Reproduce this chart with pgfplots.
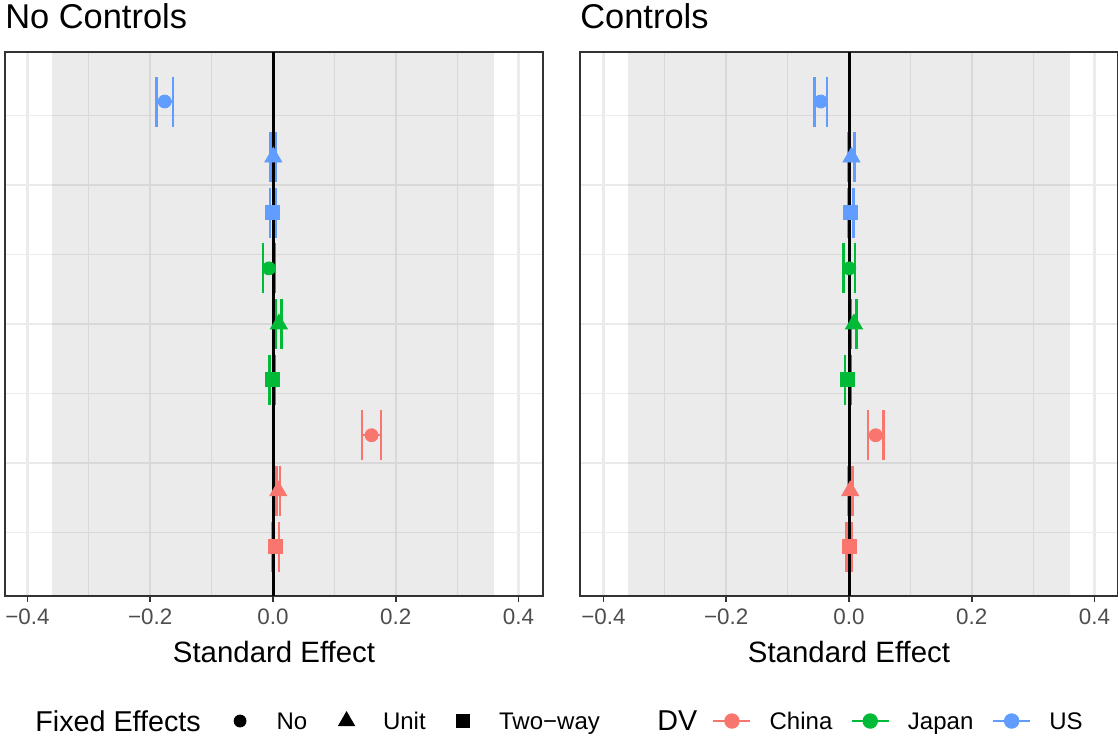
\documentclass[border=0pt]{standalone}
\usepackage{fontspec}
\setmainfont{Liberation Sans}
\usepackage{pgfplots}
\pgfplotsset{compat=1.18}

\definecolor{cChina}{HTML}{F8766D}
\definecolor{cJapan}{HTML}{00BA38}
\definecolor{cUS}{HTML}{619CFF}
\definecolor{gridc}{HTML}{EBEBEB}
\definecolor{framec}{HTML}{333333}
\definecolor{ticklab}{HTML}{4D4D4D}

\newcommand{\gap}[1]{\rule{#1}{0pt}}

\pgfplotsset{
  panel/.style={
    scale only axis, width=269pt, height=272pt, anchor=south west,
    ymin=0.11, ymax=9.89,
    xtick={-0.4,-0.2,0,0.2,0.4},
    xticklabels={−0.4,−0.2,0.0,0.2,0.4},
    minor xtick={-0.3,-0.1,0.1,0.3},
    ytick={2.5,5,7.5}, minor ytick={1.25,3.75,6.25,8.75},
    yticklabels={},
    grid=both,
    major grid style={gridc, line width=1.1pt},
    minor grid style={gridc, line width=0.55pt},
    axis line style={framec, line width=0.9pt},
    tick align=outside, tick pos=left,
    major tick length=2.75pt, minor tick length=0pt,
    x tick style={framec, line width=0.9pt},
    y tick style={draw=none},
    xticklabel style={font=\fontsize{11.2}{13}\selectfont, text=ticklab},
    xlabel={Standard Effect},
    xlabel style={font=\fontsize{14.7}{17}\selectfont, at={(axis description cs:0.5,0)}, anchor=base, yshift=-33pt},
    legend columns=-1,
    legend cell align=left,
    legend style={draw=none, fill=none, inner xsep=0pt, inner ysep=0pt, column sep=0pt,
      nodes={inner sep=0pt, text depth=0pt}, font=\fontsize{12}{14}\selectfont, anchor=west},
  },
  est/.style={only marks, color=#1,
    error bars/x dir=both, error bars/x explicit,
    error bars/error mark=|,
    error bars/error bar style={line width=1.2pt, color=#1},
    error bars/error mark options={line width=1.2pt, color=#1, mark size=12.5pt}},
  keyimg/.style={legend image code/.code={\path[draw=none,fill=none] (0pt,-5pt) rectangle (18.5pt,5pt);
    \draw[mark repeat=2,mark phase=2,##1] plot coordinates {(0pt,0pt) (9.25pt,0pt) (18.5pt,0pt)};}},
}

\begin{document}
\begin{tikzpicture}
\useasboundingbox (0,0) rectangle (559pt,368pt);

% ---- No Controls ----
\begin{axis}[panel, name=L, at={(2.5pt,70pt)}, xmin=-0.4367, xmax=0.4399,
  legend style={at={(0.0558,-0.2298)}}]
  \addlegendimage{legend image code/.code={}}
  \addlegendentry{\fontsize{14.35}{16}\selectfont Fixed Effects\gap{10.4pt}}
  \addlegendimage{keyimg, only marks, mark=*, black, mark size=3pt}
  \addlegendentry{\gap{9pt}No\gap{10.4pt}}
  \addlegendimage{keyimg, only marks, mark=triangle*, black, mark size=4.6pt}
  \addlegendentry{\gap{9pt}Unit\gap{9.2pt}}
  \addlegendimage{keyimg, only marks, mark=square*, black, mark size=3.2pt}
  \addlegendentry{\gap{9pt}Two−way}

  \fill[black, fill opacity=0.078] (axis cs:-0.36,0.11) rectangle (axis cs:0.36,9.89);
  % US
  \addplot[est=cUS, mark=*, mark size=3.25pt, forget plot] coordinates {(-0.1765,9) +- (0.0135,0)};
  \addplot[est=cUS, mark=triangle*, mark size=4.9pt, forget plot] coordinates {(0.0005,8) +- (0.0045,0)};
  \addplot[est=cUS, mark=square*, mark size=3.5pt, forget plot] coordinates {(-0.0005,7) +- (0.0045,0)};
  % Japan
  \addplot[est=cJapan, mark=*, mark size=3.25pt, forget plot] coordinates {(-0.0065,6) +- (0.0095,0)};
  \addplot[est=cJapan, mark=triangle*, mark size=4.9pt, forget plot] coordinates {(0.0095,5) +- (0.0045,0)};
  \addplot[est=cJapan, mark=square*, mark size=3.5pt, forget plot] coordinates {(-0.0015,4) +- (0.0045,0)};
  % China
  \addplot[est=cChina, mark=*, mark size=3.25pt, forget plot] coordinates {(0.1605,3) +- (0.0155,0)};
  \addplot[est=cChina, mark=triangle*, mark size=4.9pt, forget plot] coordinates {(0.0085,2) +- (0.003,0)};
  \addplot[est=cChina, mark=square*, mark size=3.5pt, forget plot] coordinates {(0.004,1) +- (0.006,0)};

  \addplot[black, line width=1.5pt, forget plot] coordinates {(0,0.11) (0,9.89)};
\end{axis}

% ---- Controls ----
\begin{axis}[panel, name=R, at={(290pt,70pt)}, xmin=-0.4383, xmax=0.4383,
  legend style={at={(0.1431,-0.2298)}}]
  \addlegendimage{legend image code/.code={}}
  \addlegendentry{\fontsize{14.35}{16}\selectfont DV\gap{7.5pt}}
  \addlegendimage{keyimg, cChina, line width=1.2pt, mark=*, mark size=3.25pt}
  \addlegendentry{\gap{9pt}China\gap{9.1pt}}
  \addlegendimage{keyimg, cJapan, line width=1.2pt, mark=*, mark size=3.25pt}
  \addlegendentry{\gap{9pt}Japan\gap{9.3pt}}
  \addlegendimage{keyimg, cUS, line width=1.2pt, mark=*, mark size=3.25pt}
  \addlegendentry{\gap{9pt}US}

  \fill[black, fill opacity=0.078] (axis cs:-0.36,0.11) rectangle (axis cs:0.36,9.89);
  % US
  \addplot[est=cUS, mark=*, mark size=3.25pt, forget plot] coordinates {(-0.046,9) +- (0.010,0)};
  \addplot[est=cUS, mark=triangle*, mark size=4.9pt, forget plot] coordinates {(0.004,8) +- (0.005,0)};
  \addplot[est=cUS, mark=square*, mark size=3.5pt, forget plot] coordinates {(0.003,7) +- (0.004,0)};
  % Japan
  \addplot[est=cJapan, mark=*, mark size=3.25pt, forget plot] coordinates {(0.0005,6) +- (0.0095,0)};
  \addplot[est=cJapan, mark=triangle*, mark size=4.9pt, forget plot] coordinates {(0.008,5) +- (0.0045,0)};
  \addplot[est=cJapan, mark=square*, mark size=3.5pt, forget plot] coordinates {(-0.002,4) +- (0.0046,0)};
  % China
  \addplot[est=cChina, mark=*, mark size=3.25pt, forget plot] coordinates {(0.0435,3) +- (0.0125,0)};
  \addplot[est=cChina, mark=triangle*, mark size=4.9pt, forget plot] coordinates {(0.002,2) +- (0.004,0)};
  \addplot[est=cChina, mark=square*, mark size=3.5pt, forget plot] coordinates {(0.000,1) +- (0.004,0)};

  \addplot[black, line width=1.5pt, forget plot] coordinates {(0,0.11) (0,9.89)};
\end{axis}

\node[anchor=base west, inner sep=0pt, font=\fontsize{17.2}{20}\selectfont] at ([yshift=11.75pt]L.north west) {No Controls};
\node[anchor=base west, inner sep=0pt, font=\fontsize{17.2}{20}\selectfont] at ([yshift=11.75pt]R.north west) {Controls};
\end{tikzpicture}
\end{document}
